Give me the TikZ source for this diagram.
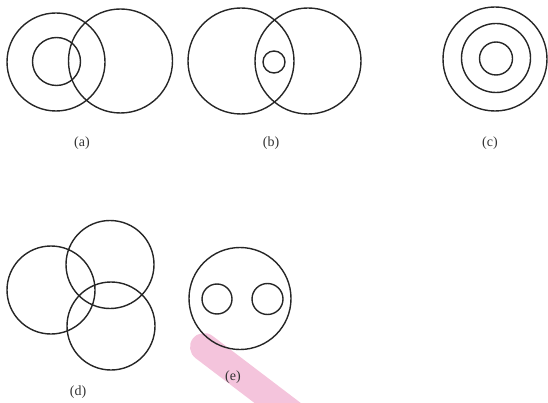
\documentclass[tikz,border=0pt]{standalone}
\usepackage{fontspec}
\setmainfont{Liberation Serif}
\begin{document}
\begin{tikzpicture}[x=1pt,y=-1pt,
  ring/.style={draw=black!85,line width=1.4pt},
  lab/.style={font=\fontsize{14}{16}\selectfont,text=black!80}]
\useasboundingbox (0,0) rectangle (548,403);
% pink smudge
\draw[line width=28pt,line cap=round,color={rgb,255:red,244;green,196;blue,220}] (204,347) -- (300,420);
% (a)
\draw[ring] (56,62) circle[radius=49];
\draw[ring] (56.5,61.5) circle[radius=24];
\draw[ring] (120.5,61) circle[radius=52];
\node[lab] (la) at (82,143) {(a)};
% (b)
\draw[ring] (241,61) circle[radius=53];
\draw[ring] (308,61) circle[radius=53];
\draw[ring] (274,62) circle[radius=11];
\node[lab] (lb) at (271,143) {(b)};
% (c)
\draw[ring] (495,59) circle[radius=52];
\draw[ring] (496,58) circle[radius=34.5];
\draw[ring] (496,58.5) circle[radius=16.5];
\node[lab] (lc) at (490,143) {(c)};
% (d)
\draw[ring] (51,290) circle[radius=44];
\draw[ring] (110,264.5) circle[radius=44];
\draw[ring] (111,326) circle[radius=44];
\node[lab] (ld) at (78,392) {(d)};
% (e)
\draw[ring] (240,298.5) circle[radius=51];
\draw[ring] (217,299) circle[radius=15];
\draw[ring] (267.5,299) circle[radius=15.5];
\node[lab] (le) at (233,377) {(e)};
\end{tikzpicture}
\end{document}
